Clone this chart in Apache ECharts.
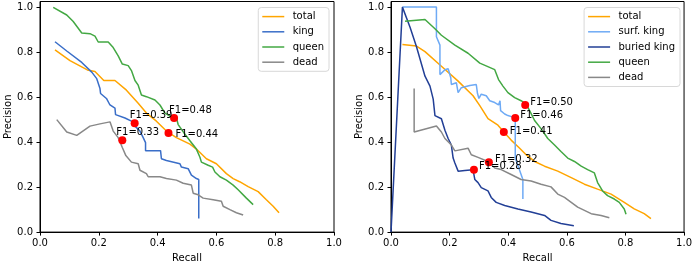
<!DOCTYPE html>
<html>
<head>
<meta charset="utf-8">
<script src="https://cdn.jsdelivr.net/npm/echarts@6/dist/echarts.min.js"></script>
<style>
  html, body { margin: 0; padding: 0; background: #fff; }
  #chart { width: 695px; height: 268px; }
</style>
</head>
<body>
<div id="chart"></div>
<script>
// ======================
// DATA  ([recall, precision])
// ======================

const tickValues = [0, 0.2, 0.4, 0.6, 0.8, 1.0];

// left panel
const leftTotal = [
    [0.051, 0.81], [0.102, 0.762], [0.161, 0.721], [0.187, 0.714], [0.217, 0.674],
    [0.255, 0.674], [0.294, 0.631], [0.334, 0.573], [0.362, 0.529], [0.396, 0.493],
    [0.43, 0.449], [0.464, 0.42], [0.51, 0.391], [0.532, 0.369], [0.566, 0.326],
    [0.6, 0.304], [0.634, 0.26], [0.657, 0.238], [0.679, 0.224], [0.708, 0.202],
    [0.742, 0.18], [0.77, 0.144], [0.793, 0.115], [0.813, 0.086]
];
const leftKing = [
    [0.051, 0.846], [0.091, 0.805], [0.142, 0.754], [0.176, 0.711], [0.193, 0.682],
    [0.204, 0.638], [0.206, 0.616], [0.226, 0.594], [0.238, 0.565], [0.255, 0.551],
    [0.257, 0.522], [0.289, 0.507], [0.311, 0.493], [0.323, 0.471], [0.34, 0.449],
    [0.351, 0.42], [0.359, 0.398], [0.359, 0.362], [0.41, 0.362], [0.413, 0.326],
    [0.43, 0.318], [0.476, 0.304], [0.481, 0.289], [0.504, 0.282], [0.515, 0.253],
    [0.532, 0.238], [0.54, 0.234], [0.54, 0.061]
];
const leftQueen = [
    [0.045, 0.999], [0.091, 0.965], [0.113, 0.936], [0.142, 0.885], [0.17, 0.882],
    [0.187, 0.871], [0.198, 0.845], [0.232, 0.845], [0.249, 0.82], [0.266, 0.783],
    [0.28, 0.747], [0.3, 0.74], [0.311, 0.718], [0.323, 0.674], [0.334, 0.653],
    [0.345, 0.609], [0.362, 0.602], [0.391, 0.587], [0.408, 0.565], [0.425, 0.529],
    [0.442, 0.515], [0.464, 0.507], [0.47, 0.478], [0.493, 0.435], [0.51, 0.406],
    [0.532, 0.369], [0.544, 0.333], [0.549, 0.311], [0.572, 0.297], [0.587, 0.289],
    [0.595, 0.267], [0.612, 0.246], [0.634, 0.231], [0.657, 0.209], [0.674, 0.188],
    [0.702, 0.151], [0.725, 0.122]
];
const leftDead = [
    [0.057, 0.5], [0.091, 0.445], [0.125, 0.43], [0.17, 0.471], [0.204, 0.481],
    [0.238, 0.49], [0.249, 0.449], [0.266, 0.42], [0.28, 0.376], [0.292, 0.34],
    [0.311, 0.311], [0.334, 0.304], [0.34, 0.275], [0.362, 0.26], [0.368, 0.246],
    [0.408, 0.246], [0.43, 0.238], [0.464, 0.231], [0.487, 0.217], [0.515, 0.209],
    [0.521, 0.173], [0.538, 0.166], [0.555, 0.151], [0.589, 0.144], [0.617, 0.137],
    [0.623, 0.115], [0.646, 0.1], [0.668, 0.086], [0.691, 0.076]
];
const leftF1Points = [[0.322, 0.484], [0.456, 0.507], [0.437, 0.44], [0.28, 0.408]];
const leftF1Labels = ['F1=0.39', 'F1=0.48', 'F1=0.44', 'F1=0.33'];

// right panel
const rightTotal = [
    [0.039, 0.834], [0.087, 0.827], [0.116, 0.802], [0.172, 0.737], [0.229, 0.671],
    [0.28, 0.606], [0.303, 0.562], [0.331, 0.504], [0.365, 0.475], [0.385, 0.445],
    [0.41, 0.409], [0.439, 0.373], [0.461, 0.344], [0.49, 0.314], [0.524, 0.293],
    [0.569, 0.271], [0.615, 0.242], [0.66, 0.213], [0.705, 0.191], [0.751, 0.169],
    [0.796, 0.132], [0.83, 0.103], [0.864, 0.082], [0.887, 0.06]
];
const rightSurfKing = [
    [0.039, 1.0], [0.155, 1.0], [0.155, 0.868], [0.167, 0.831], [0.167, 0.7],
    [0.184, 0.722], [0.195, 0.726], [0.204, 0.686], [0.206, 0.656], [0.223, 0.664],
    [0.229, 0.62], [0.24, 0.642], [0.269, 0.652], [0.291, 0.656], [0.295, 0.617],
    [0.3, 0.594], [0.308, 0.613], [0.325, 0.606], [0.337, 0.584], [0.354, 0.576],
    [0.367, 0.565], [0.372, 0.584], [0.374, 0.54], [0.388, 0.525], [0.399, 0.518],
    [0.416, 0.511], [0.424, 0.511], [0.424, 0.329], [0.45, 0.234], [0.45, 0.147]
];
const rightBuriedKing = [
    [0, 0], [0.039, 1.0], [0.065, 0.911], [0.087, 0.824], [0.116, 0.693],
    [0.133, 0.649], [0.144, 0.591], [0.15, 0.518], [0.172, 0.504], [0.184, 0.453],
    [0.195, 0.416], [0.206, 0.387], [0.212, 0.329], [0.218, 0.307], [0.229, 0.271],
    [0.252, 0.274], [0.28, 0.277], [0.286, 0.234], [0.297, 0.22], [0.308, 0.198],
    [0.331, 0.183], [0.342, 0.154], [0.359, 0.132], [0.388, 0.118], [0.433, 0.103],
    [0.478, 0.089], [0.524, 0.074], [0.546, 0.052], [0.58, 0.038], [0.624, 0.028]
];
const rightQueen = [
    [0.048, 0.937], [0.116, 0.945], [0.15, 0.904], [0.172, 0.875], [0.218, 0.831],
    [0.263, 0.795], [0.303, 0.751], [0.354, 0.722], [0.367, 0.678], [0.382, 0.649],
    [0.399, 0.62], [0.422, 0.598], [0.444, 0.584], [0.461, 0.569], [0.473, 0.54],
    [0.49, 0.496], [0.512, 0.46], [0.535, 0.416], [0.558, 0.387], [0.58, 0.358],
    [0.603, 0.329], [0.626, 0.314], [0.649, 0.293], [0.671, 0.278], [0.694, 0.263],
    [0.705, 0.22], [0.722, 0.183], [0.739, 0.162], [0.762, 0.147], [0.779, 0.132],
    [0.796, 0.103], [0.802, 0.079]
];
const rightDead = [
    [0.079, 0.638], [0.079, 0.445], [0.155, 0.472], [0.172, 0.445], [0.184, 0.416],
    [0.206, 0.387], [0.218, 0.361], [0.263, 0.373], [0.274, 0.344], [0.297, 0.332],
    [0.331, 0.314], [0.354, 0.285], [0.376, 0.278], [0.41, 0.256], [0.444, 0.234],
    [0.478, 0.227], [0.512, 0.213], [0.546, 0.201], [0.569, 0.169], [0.592, 0.154],
    [0.615, 0.132], [0.637, 0.111], [0.683, 0.082], [0.717, 0.074], [0.745, 0.064]
];
const rightF1Points = [[0.458, 0.565], [0.424, 0.507], [0.385, 0.445], [0.334, 0.311], [0.283, 0.277]];
const rightF1Labels = ['F1=0.50', 'F1=0.46', 'F1=0.41', 'F1=0.32', 'F1=0.28'];

// ======================
// STYLE
// ======================

const FONT = 'DejaVu Sans';
const COLORS = {
    total: '#ffa500',
    king: '#3a6ec8',
    surfKing: '#6eaaf5',
    buriedKing: '#223f96',
    queen: '#43a843',
    dead: '#888888',
};
// label offsets from dot centre, px
const leftLabelOffsets = [[-5, -8], [-5, -8], [7, 1], [-6, -8]];
const rightLabelOffsets = [[5, -3], [5, -3], [6, -1], [6, -3], [5, -3]];

const Y_MAX = 1.025;

function makeGrid(left) {
    return {
        left: left, top: 1.5, width: 294, height: 234.5,
        show: true, borderColor: '#000', borderWidth: 1, backgroundColor: 'transparent',
    };
}

function makeXAxis(gridIndex) {
    return {
        type: 'value', gridIndex, min: 0, max: 1, interval: 0.2,
        name: 'Recall', nameLocation: 'middle', nameGap: 20,
        nameTextStyle: { color: '#000', fontFamily: FONT, fontSize: 10 },
        axisLine: { show: true, onZero: false, lineStyle: { color: '#000', width: 1 } },
        axisTick: { show: true, inside: false, length: 3.5, lineStyle: { color: '#000' } },
        axisLabel: {
            color: '#000', fontFamily: FONT, fontSize: 10, margin: 6,
            formatter: v => v.toFixed(1),
        },
        splitLine: { show: false },
    };
}

function makeYAxis(gridIndex) {
    return {
        type: 'value', gridIndex, min: 0, max: Y_MAX,
        name: 'Precision', nameLocation: 'middle', nameGap: 27,
        nameTextStyle: { color: '#000', fontFamily: FONT, fontSize: 10 },
        axisLine: { show: true, onZero: false, lineStyle: { color: '#000', width: 1 } },
        axisTick: { show: true, inside: false, length: 3.5, customValues: tickValues, lineStyle: { color: '#000' } },
        axisLabel: {
            color: '#000', fontFamily: FONT, fontSize: 10, margin: 7,
            customValues: tickValues,
            formatter: v => v.toFixed(1),
        },
        splitLine: { show: false },
    };
}

function lineSeries(name, data, color, axisIndex) {
    return {
        type: 'line', name, data,
        xAxisIndex: axisIndex, yAxisIndex: axisIndex,
        showSymbol: false, symbol: 'none', smooth: false,
        lineStyle: { color, width: 1.5 },
        itemStyle: { color },
        animation: false,
    };
}

function f1Series(points, labels, offsets, axisIndex) {
    return {
        type: 'scatter',
        xAxisIndex: axisIndex, yAxisIndex: axisIndex,
        symbolSize: 8,
        z: 5,
        itemStyle: { color: '#ff0000', opacity: 1 },
        data: points.map((p, i) => ({
            value: p,
            label: {
                show: true,
                formatter: labels[i],
                position: 'inside',
                align: 'left',
                verticalAlign: 'middle',
                offset: offsets[i],
                color: '#000',
                fontFamily: FONT,
                fontSize: 10,
            },
        })),
        animation: false,
    };
}

function makeLegend(names, right) {
    return {
        data: names,
        orient: 'vertical',
        right: right,
        top: 7.5,
        icon: 'rect',
        itemWidth: 22,
        itemHeight: 1.5,
        itemGap: 0,
        padding: [1.5, 5, 1.5, 4],
        backgroundColor: 'rgba(255,255,255,0.8)',
        borderColor: '#d8d8d8',
        borderWidth: 1,
        borderRadius: 3,
        selectedMode: false,
        textStyle: {
            color: '#000', fontFamily: FONT, fontSize: 10,
            lineHeight: 15.2, padding: [0, 0, 0, 3.4],
        },
    };
}

// ======================
// CHART
// ======================

const chart = echarts.init(document.getElementById('chart'), null, { renderer: 'canvas' });

const leftNames = ['total', 'king', 'queen', 'dead'];
const rightNames = ['total ', 'surf. king', 'buried king', 'queen ', 'dead '];

const option = {
    animation: false,
    backgroundColor: '#fff',
    grid: [makeGrid(40), makeGrid(391)],
    xAxis: [makeXAxis(0), makeXAxis(1)],
    yAxis: [makeYAxis(0), makeYAxis(1)],
    legend: [
        makeLegend(leftNames, 366),
        Object.assign(makeLegend(rightNames, 15), {
            formatter: n => n.trim(),
        }),
    ],
    series: [
        lineSeries('total', leftTotal, COLORS.total, 0),
        lineSeries('king', leftKing, COLORS.king, 0),
        lineSeries('queen', leftQueen, COLORS.queen, 0),
        lineSeries('dead', leftDead, COLORS.dead, 0),
        f1Series(leftF1Points, leftF1Labels, leftLabelOffsets, 0),

        lineSeries('total ', rightTotal, COLORS.total, 1),
        lineSeries('surf. king', rightSurfKing, COLORS.surfKing, 1),
        lineSeries('buried king', rightBuriedKing, COLORS.buriedKing, 1),
        lineSeries('queen ', rightQueen, COLORS.queen, 1),
        lineSeries('dead ', rightDead, COLORS.dead, 1),
        f1Series(rightF1Points, rightF1Labels, rightLabelOffsets, 1),
    ],
};

chart.setOption(option);
</script>
</body>
</html>
